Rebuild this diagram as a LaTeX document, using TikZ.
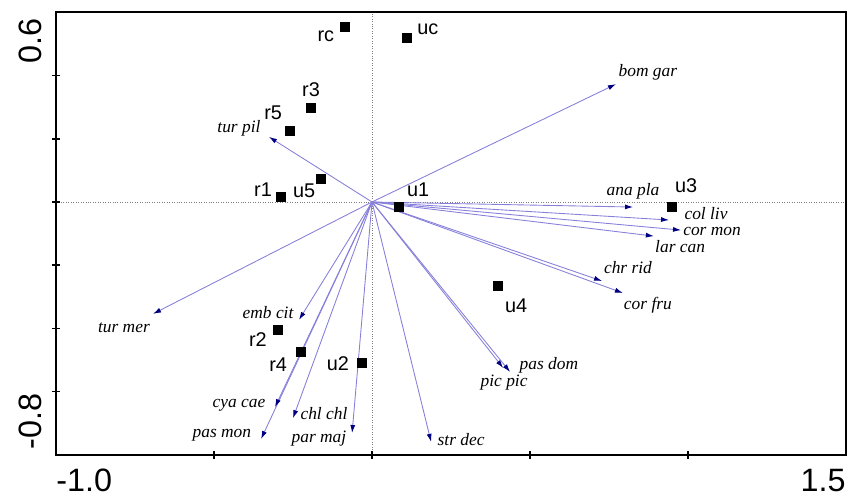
\documentclass[tikz,border=0pt]{standalone}
\usepackage{fontspec}
\setmainfont{Liberation Serif}
\setsansfont{Liberation Sans}
\usetikzlibrary{arrows.meta,positioning}
\definecolor{ordline}{RGB}{135,128,218}
\definecolor{ordtip}{RGB}{0,0,128}
\tikzstyle{sparrow} = [ordline, line width=0.5pt, -{Latex[length=1.6mm,width=1mm,color=ordtip]}]
\tikzstyle{splab} = [font=\fontsize{9.9}{11}\selectfont\itshape, inner sep=0pt]
\tikzstyle{sitebox} = [fill=black, minimum size=0.2cm, inner sep=0pt]
\tikzstyle{sitelab} = [font=\fontsize{11.3}{13}\selectfont\sffamily, inner sep=0pt]
\tikzstyle{axnum} = [font=\fontsize{18.4}{20}\selectfont\sffamily, inner sep=0pt]
\tikzstyle{zeroline} = [gray, densely dotted, line width=0.4pt]

\begin{document}
\begin{tikzpicture}[x=6.32cm, y=6.32cm]
    \useasboundingbox (-1.1772,-0.9335) rectangle (1.5316,0.6392);

    % Zero lines
    \coordinate (o) at (0,0);
    \draw[zeroline] (0,-0.8) -- (0,0.6);
    \draw[zeroline] (-1,0) -- (1.5,0);

    % Frame and ticks
    \draw[line width=1.1pt] (-1,-0.8) rectangle (1.5,0.6);
    \foreach \t in {-0.6,-0.4,-0.2,0,0.2,0.4}
        \draw[line width=0.9pt] (-1.013,\t) -- (-0.987,\t);
    \foreach \t in {-0.5,0,0.5,1}
        \draw[line width=0.9pt] (\t,-0.813) -- (\t,-0.787);

    % Axis values
    \node[axnum, anchor=north west] (xmin) at (-1,-0.845) {-1.0};
    \node[axnum, anchor=north east] (xmax) at (1.5,-0.845) {1.5};
    \node[axnum, rotate=90, anchor=south east] (ymax) at (-1.044,0.582) {0.6};
    \node[axnum, rotate=90, anchor=south west] (ymin) at (-1.044,-0.785) {-0.8};

    % Species arrows
    \foreach \nm/\txt/\x/\y/\lx/\ly in {
        turpil/tur pil/-0.326/0.206/-0.421/0.234,
        bomgar/bom gar/0.772/0.373/0.873/0.411,
        anapla/ana pla/0.826/-0.016/0.826/0.035,
        colliv/col liv/0.940/-0.057/1.057/-0.036,
        cormon/cor mon/0.978/-0.089/1.076/-0.094,
        larcan/lar can/0.892/-0.108/0.975/-0.142,
        chrrid/chr rid/0.728/-0.250/0.810/-0.206,
        corfru/cor fru/0.794/-0.288/0.873/-0.326,
        pasdom/pas dom/0.437/-0.538/0.560/-0.516,
        picpic/pic pic/0.415/-0.525/0.418/-0.570,
        strdec/str dec/0.187/-0.759/0.282/-0.753,
        parmaj/par maj/-0.063/-0.731/-0.168/-0.750,
        chlchl/chl chl/-0.250/-0.684/-0.152/-0.668,
        pasmon/pas mon/-0.351/-0.750/-0.475/-0.737,
        cyacae/cya cae/-0.307/-0.649/-0.421/-0.642,
        embcit/emb cit/-0.231/-0.373/-0.329/-0.351,
        turmer/tur mer/-0.693/-0.354/-0.785/-0.399}
    {
        \coordinate (\nm) at (\x,\y);
        \draw[sparrow] (o) -- (\nm);
        \node[splab] (\nm-lab) at (\lx,\ly) {\txt};
    }

    % Sites
    \foreach \nm/\x/\y/\lx/\ly in {
        rc/-0.085/0.554/-0.146/0.525,
        uc/0.111/0.519/0.177/0.547,
        r3/-0.193/0.297/-0.193/0.354,
        r5/-0.259/0.225/-0.313/0.282,
        u5/-0.161/0.073/-0.215/0.035,
        r1/-0.288/0.016/-0.345/0.038,
        u1/0.085/-0.016/0.146/0.038,
        u3/0.949/-0.016/0.994/0.051,
        u4/0.399/-0.266/0.456/-0.329,
        r2/-0.297/-0.405/-0.361/-0.434,
        r4/-0.225/-0.475/-0.297/-0.516,
        u2/-0.032/-0.509/-0.108/-0.513}
    {
        \node[sitebox] (\nm) at (\x,\y) {};
        \node[sitelab] (\nm-lab) at (\lx,\ly) {\nm};
    }
\end{tikzpicture}
\end{document}
